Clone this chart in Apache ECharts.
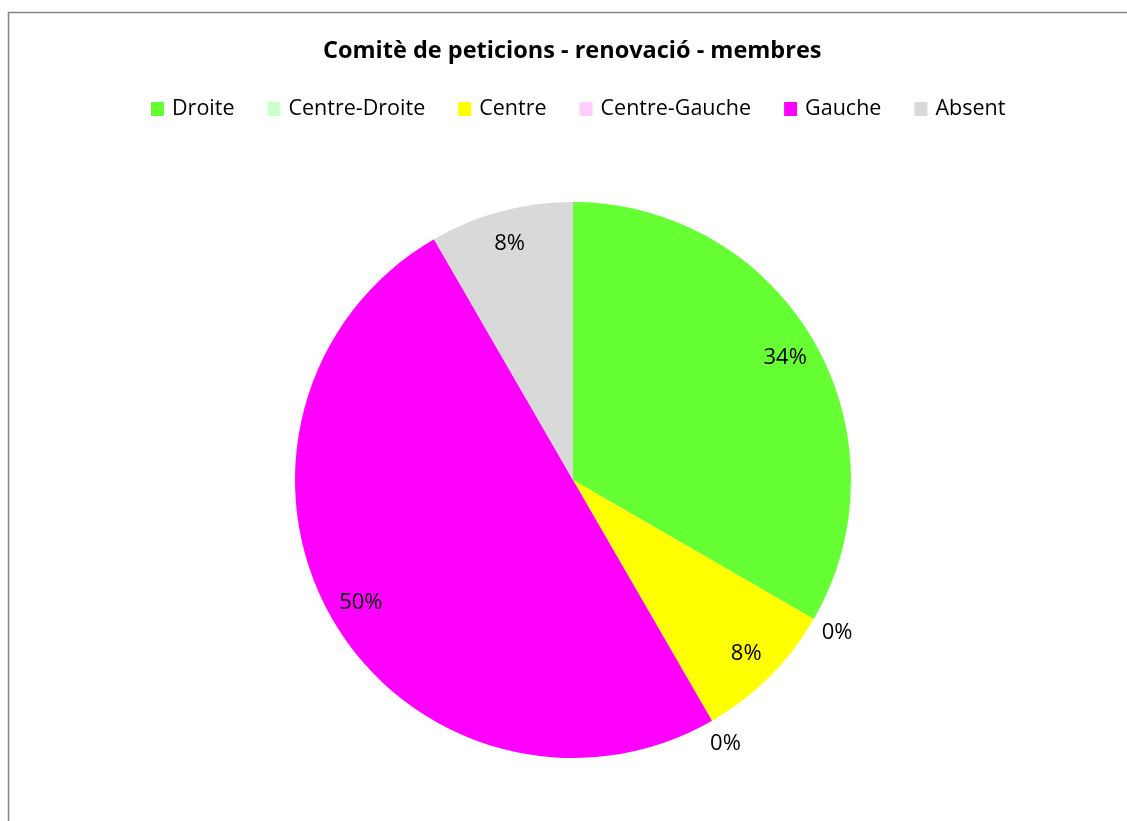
<!DOCTYPE html>
<html>
<head>
<meta charset="utf-8">
<script src="https://cdn.jsdelivr.net/npm/echarts@6/dist/echarts.min.js"></script>
<style>
html,body{margin:0;padding:0;background:#fff;}
#chart{width:1127px;height:821px;}
</style>
</head>
<body>
<div id="chart"></div>
<script>
const titleText = 'Comitè de peticions - renovació - membres';
const categories = ['Droite', 'Centre-Droite', 'Centre', 'Centre-Gauche', 'Gauche', 'Absent'];
const values = [4, 0, 1, 0, 6, 1];
const labelTexts = ['34%', '0%', '8%', '0%', '50%', '8%'];
const colors = ['#66FF33', '#CCFFCC', '#FFFF00', '#FFCCFF', '#FF00FF', '#D9D9D9'];

const FONT = '"Open Sans", Lato, sans-serif';
const chart = echarts.init(document.getElementById('chart'), null, {renderer: 'canvas'});

const center = [573, 480];
const R = 278;

const mainData = categories.map((c, i) => ({name: c, value: values[i], itemStyle: {color: colors[i]}}));
const insideData = categories.map((c, i) => ({
  name: c, value: values[i],
  label: {show: values[i] > 0}
}));
const zeroData = categories.map((c, i) => ({
  name: c, value: values[i],
  label: {show: values[i] === 0}
}));

const labelStyle = {
  position: 'inside',
  formatter: p => labelTexts[p.dataIndex],
  color: '#000',
  fontFamily: FONT,
  fontSize: 22,
  rotate: 0
};

chart.setOption({
  animation: false,
  backgroundColor: '#fff',
  title: {
    text: titleText,
    left: 318,
    top: 34,
    textStyle: {fontFamily: FONT, fontSize: 23.5, fontWeight: 'bold', color: '#000'}
  },
  legend: {
    top: 93,
    left: 146,
    itemWidth: 13,
    itemHeight: 14,
    itemGap: 33,
    icon: 'rect',
    selectedMode: false,
    data: categories.map((c, i) => ({name: c, itemStyle: {color: colors[i]}})),
    textStyle: {fontFamily: FONT, fontSize: 21.5, color: '#000', padding: [0, 0, 0, 3]}
  },
  graphic: [{
    type: 'rect',
    shape: {x: 8.5, y: 12.5, width: 1300, height: 1000},
    style: {fill: null, stroke: '#858585', lineWidth: 1.5},
    silent: true
  }],
  series: [
    {
      type: 'pie',
      center: center,
      radius: R,
      startAngle: 90,
      clockwise: true,
      silent: true,
      avoidLabelOverlap: false,
      label: {show: false},
      labelLine: {show: false},
      itemStyle: {borderWidth: 0},
      emphasis: {disabled: true},
      data: mainData
    },
    {
      type: 'pie',
      center: center,
      radius: [206, R],
      startAngle: 90,
      clockwise: true,
      silent: true,
      avoidLabelOverlap: false,
      label: labelStyle,
      labelLine: {show: false},
      itemStyle: {color: 'rgba(0,0,0,0)', borderWidth: 0},
      emphasis: {disabled: true},
      data: insideData
    },
    {
      type: 'pie',
      center: center,
      radius: [282, 322],
      startAngle: 90,
      clockwise: true,
      silent: true,
      avoidLabelOverlap: false,
      label: labelStyle,
      labelLine: {show: false},
      itemStyle: {color: 'rgba(0,0,0,0)', borderWidth: 0},
      emphasis: {disabled: true},
      data: zeroData
    }
  ]
});
</script>
</body>
</html>
